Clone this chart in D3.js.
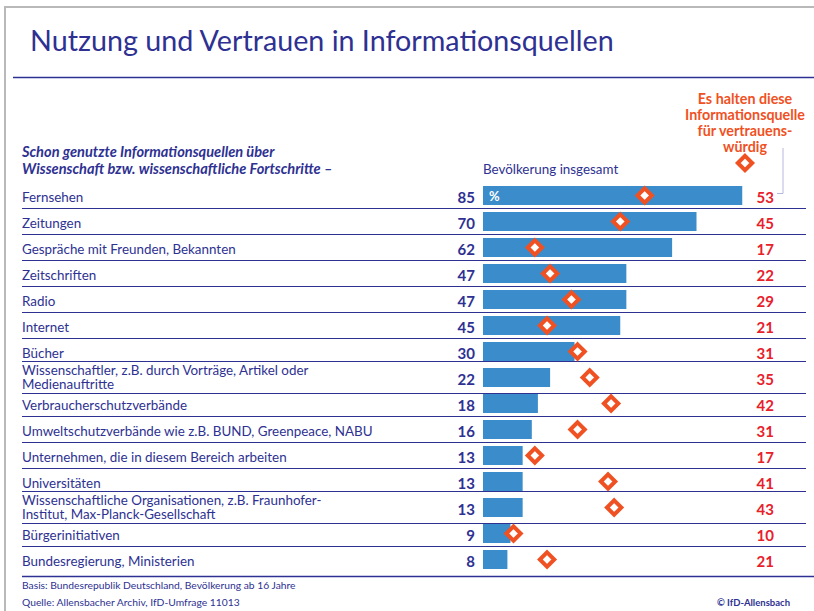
<!DOCTYPE html>
<html>
<head>
<meta charset="utf-8">
<style>
  body { margin: 0; background: #fff; }
  svg { display: block; font-family: Lato, "Open Sans", sans-serif; }
</style>
</head>
<body>
<svg id="chart" width="814" height="611"></svg>

<script src="https://d3js.org/d3.v7.min.js"></script>
<script>
  // data
  const sources = [
    ["Fernsehen"],
    ["Zeitungen"],
    ["Gespräche mit Freunden, Bekannten"],
    ["Zeitschriften"],
    ["Radio"],
    ["Internet"],
    ["Bücher"],
    ["Wissenschaftler, z.B. durch Vorträge, Artikel oder", "Medienauftritte"],
    ["Verbraucherschutzverbände"],
    ["Umweltschutzverbände wie z.B. BUND, Greenpeace, NABU"],
    ["Unternehmen, die in diesem Bereich arbeiten"],
    ["Universitäten"],
    ["Wissenschaftliche Organisationen, z.B. Fraunhofer-", "Institut, Max-Planck-Gesellschaft"],
    ["Bürgerinitiativen"],
    ["Bundesregierung, Ministerien"]
  ];
  const used = [85, 70, 62, 47, 47, 45, 30, 22, 18, 16, 13, 13, 13, 9, 8];
  const trusted = [53, 45, 17, 22, 29, 21, 31, 35, 42, 31, 17, 41, 43, 10, 21];

  const legendLines = ["Es halten diese", "Informationsquelle", "für vertrauens-", "würdig"];
  const footLines = [
    "Basis: Bundesrepublik Deutschland, Bevölkerung ab 16 Jahre",
    "Quelle: Allensbacher Archiv, IfD-Umfrage 11013"
  ];

  const navy = "#2e3192";
  const barBlue = "#3b8ccb";
  const orange = "#f05123";
  const red = "#e8202a";

  const svg = d3.select("#chart");

  // frame (left + top edges only visible)
  svg.append("path")
    .attr("d", "M5,611V7H814")
    .attr("fill", "none")
    .attr("stroke", "#b9b9b9")
    .attr("stroke-width", 2);

  svg.append("text")
    .attr("x", 30).attr("y", 51)
    .attr("fill", navy)
    .attr("font-size", 28.7)
    .text("Nutzung und Vertrauen in Informationsquellen");

  svg.append("line")
    .attr("x1", 13).attr("x2", 814)
    .attr("y1", 77.5).attr("y2", 77.5)
    .attr("stroke", navy).attr("stroke-width", 1.5);

  // scales
  const step = 26, barH = 19;
  const x = d3.scaleLinear().domain([0, 100]).range([483, 788]);
  const y = d3.scaleBand()
    .domain(d3.range(used.length))
    .range([186, 186 + step * used.length - (step - barH)])
    .paddingInner((step - barH) / step).paddingOuter(0).align(0);
  const bh = y.bandwidth();

  // sub heading
  const sub = svg.append("text")
    .attr("fill", navy)
    .attr("font-size", 14.6)
    .attr("font-weight", "bold")
    .attr("font-style", "italic");
  sub.append("tspan").attr("x", 22).attr("y", 157).text("Schon genutzte Informationsquellen über");
  sub.append("tspan").attr("x", 22).attr("y", 174).text("Wissenschaft bzw. wissenschaftliche Fortschritte –");

  svg.append("text")
    .attr("x", x(0)).attr("y", 174)
    .attr("fill", navy).attr("font-size", 13.4)
    .text("Bevölkerung insgesamt");

  // legend
  svg.append("g").selectAll("text")
    .data(legendLines)
    .join("text")
    .attr("x", 745).attr("y", (d, i) => 104 + i * 16)
    .attr("text-anchor", "middle")
    .attr("fill", orange)
    .attr("font-size", 14.3)
    .attr("font-weight", "bold")
    .text(d => d);

  const diamond = s => `M0,${-s}L${s},0L0,${s}L${-s},0Z`;

  svg.append("path")
    .attr("d", diamond(7.2))
    .attr("transform", "translate(745,163)")
    .attr("fill", "#fff").attr("stroke", orange).attr("stroke-width", 4);

  svg.append("path")
    .attr("d", "M783,148V193.5H777")
    .attr("fill", "none")
    .attr("stroke", "#b7b7dc").attr("stroke-width", 1);

  // row separators: sit just below each bar, pushed down for two-line labels
  const sepY = i => {
    let off = 3;
    if (sources[i].length > 1) off = 5.5;
    else if (i + 1 < sources.length && sources[i + 1].length > 1) off = 0;
    if (i === sources.length - 1) off = 7;
    return y(i) + bh + off;
  };
  svg.append("g").selectAll("line")
    .data(d3.range(sources.length))
    .join("line")
    .attr("x1", 22)
    .attr("x2", i => i === sources.length - 1 ? 814 : 806)
    .attr("y1", i => Math.round(sepY(i)) + 0.5)
    .attr("y2", i => Math.round(sepY(i)) + 0.5)
    .attr("stroke", navy).attr("stroke-width", i => i === sources.length - 1 ? 1.5 : 1.2);

  // labels
  const labels = svg.append("g")
    .attr("fill", navy).attr("font-size", 13.4);
  labels.selectAll("text")
    .data(sources)
    .join("text")
    .each(function (lines, i) {
      const t = d3.select(this);
      if (lines.length === 1) {
        t.append("tspan").attr("x", 22).attr("y", y(i) + bh - 3).text(lines[0]);
      } else {
        t.append("tspan").attr("x", 22).attr("y", y(i) + bh - 12).text(lines[0]);
        t.append("tspan").attr("x", 22).attr("y", y(i) + bh + 1.5).text(lines[1]);
      }
    });

  // bars
  svg.append("g").selectAll("rect")
    .data(used)
    .join("rect")
    .attr("x", x(0))
    .attr("y", (d, i) => y(i))
    .attr("width", d => x(d) - x(0))
    .attr("height", bh)
    .attr("fill", barBlue);

  svg.append("text")
    .attr("x", x(0) + 6).attr("y", y(0) + bh - 4)
    .attr("fill", "#fff").attr("font-size", 13).attr("font-weight", "bold")
    .text("%");

  // usage values
  svg.append("g").selectAll("text")
    .data(used)
    .join("text")
    .attr("x", 475)
    .attr("y", (d, i) => y(i) + bh - 2.5)
    .attr("text-anchor", "end")
    .attr("fill", navy).attr("font-size", 15).attr("font-weight", "bold")
    .text(d => d);

  // trust diamonds
  svg.append("g").selectAll("path")
    .data(trusted)
    .join("path")
    .attr("d", diamond(7.2))
    .attr("transform", (d, i) => `translate(${x(d)},${y(i) + bh / 2})`)
    .attr("fill", "#fff").attr("stroke", orange).attr("stroke-width", 4);

  // trust values
  svg.append("g").selectAll("text")
    .data(trusted)
    .join("text")
    .attr("x", 774)
    .attr("y", (d, i) => y(i) + bh - 2)
    .attr("text-anchor", "end")
    .attr("fill", red).attr("font-size", 15).attr("font-weight", "bold")
    .text(d => d);

  // footer
  svg.append("g").selectAll("text")
    .data(footLines)
    .join("text")
    .attr("x", 22).attr("y", (d, i) => 589 + i * 16.5)
    .attr("fill", navy).attr("font-size", 10.3)
    .text(d => d);

  svg.append("text")
    .attr("x", 790).attr("y", 605.5)
    .attr("text-anchor", "end")
    .attr("fill", navy).attr("font-size", 9.5).attr("font-weight", "bold")
    .text("© IfD-Allensbach");
</script>
</body>
</html>
